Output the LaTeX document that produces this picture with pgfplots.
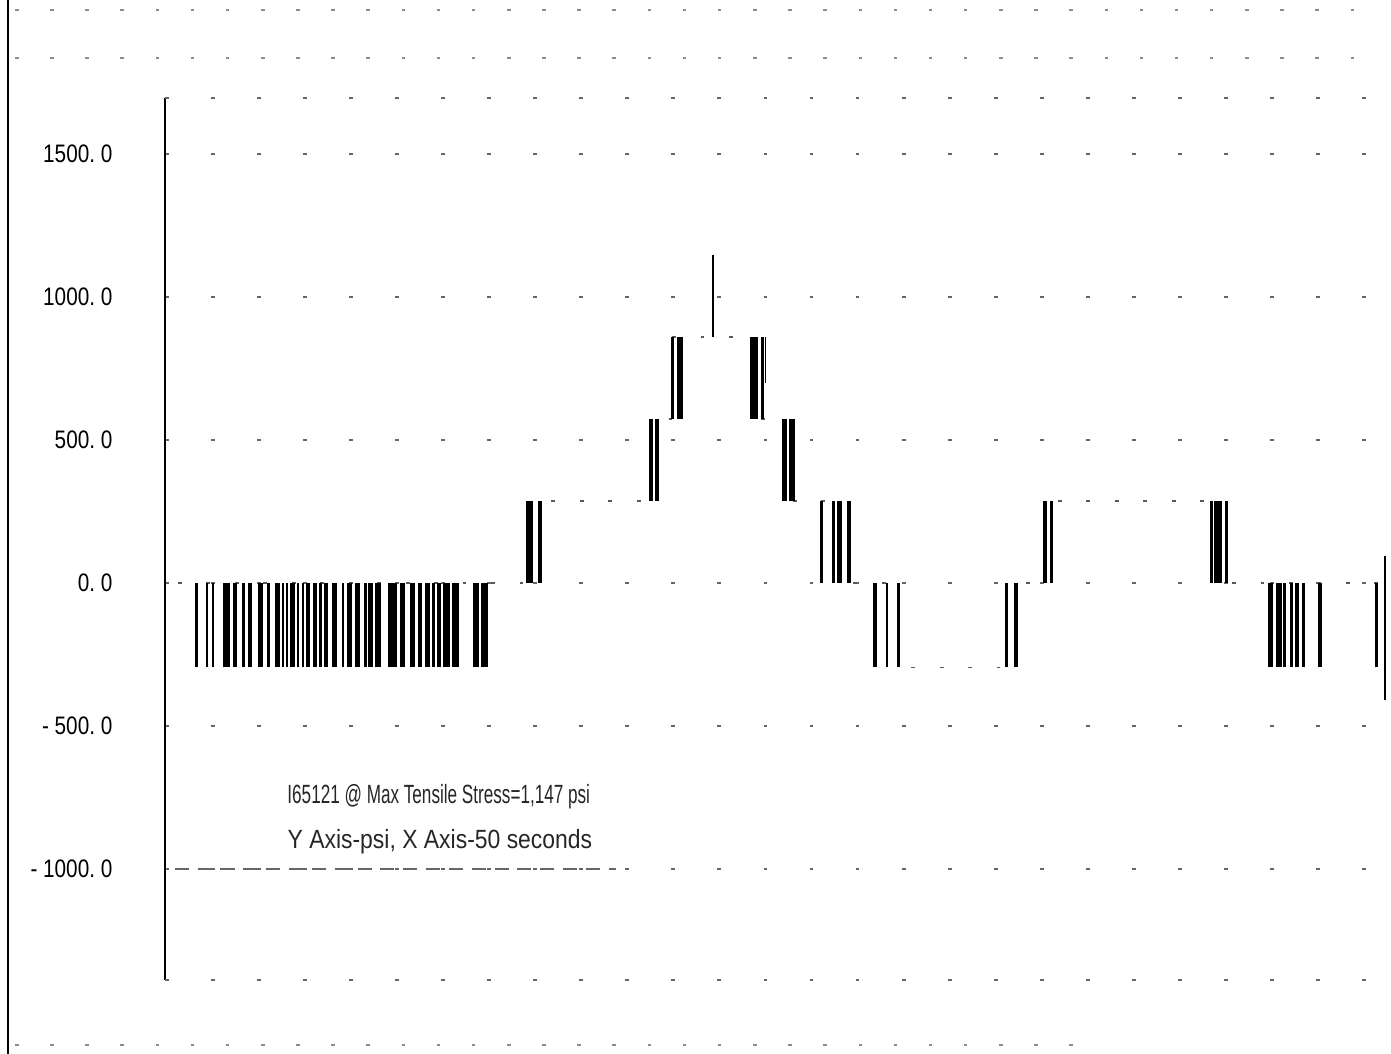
\documentclass[border=0pt]{standalone}
\usepackage{fontspec}
\setmainfont{Liberation Sans}
\usepackage{pgfplots}
\usepackage{pgfplotstable}
\pgfplotsset{compat=1.18}

% Stress transitions: time (s), level before/after (psi), stroke weight (px)
\pgfplotstableread{
t      lo    hi    w
1.291  -295  0     3
1.721  -295  0     2
1.967  -295  0     2
2.520  -295  0     7
2.869  -295  0     4
3.217  -295  0     3
3.484  -295  0     4
3.914  -295  0     5
4.242  -295  0     3
4.611  -295  0     5
4.836  -295  0     2
5.000  -295  0     2
5.225  -295  0     5
5.451  -295  0     2
5.656  -295  0     2
5.861  -295  0     4
6.148  -295  0     4
6.373  -295  0     3
6.598  -295  0     4
6.947  -295  0     5
7.295  -295  0     2
7.561  -295  0     5
7.889  -295  0     5
8.197  -295  0     3
8.422  -295  0     5
8.730  -295  0     6
9.324  -295  0     9
9.734  -295  0     5
10.143 -295  0     5
10.451 -295  0     4
10.758 -295  0     5
11.004 -295  0     3
11.230 -295  0     4
11.537 -295  0     7
11.906 -295  0     7
12.746 -295  0     6
13.094 -295  0     7
14.939 0     287   7
15.369 0     287   4
19.918 287   574   4
20.164 287   574   4
20.799 574   860   3
21.107 574   860   6
22.459 860   1147  2
24.139 574   860   8
24.488 574   860   3
24.602 700   860   1.5
25.389 287   574   5
25.697 287   574   6
26.906 0     287   3
27.398 0     287   3
27.643 0     287   5
28.033 0     287   4
29.098 -295  0     4
29.590 -295  0     2.5
30.061 -295  0     3
34.488 -295  0     3.5
34.857 -295  0     4
36.066 0     287   4
36.332 0     287   3
42.889 0     287   3
43.156 0     287   8
43.504 0     287   3
45.307 -295  0     5
45.656 -295  0     6
45.881 -295  0     3
46.168 -295  0     3
46.393 -295  0     4
46.660 -295  0     3
47.336 -295  0     4
49.652 -295  0     3
}\transitions

% Held stress level between transitions
\pgfplotstableread{
t      y
0.53   0
14.94  287
19.92  574
20.80  860
24.14  574
25.39  287
28.03  0
30.06  -295
34.86  0
36.33  287
42.89  0
50.00  0
}\levels

\tikzset{
  sparse/.style={dash pattern=on 1.1pt off 12pt, line width=0.45pt, black!60},
  header/.style={dash pattern=on 1pt off 9pt, line width=0.4pt, black!45},
}

\begin{document}
\begin{tikzpicture}[x=1cm,y=1cm]
\useasboundingbox (0,0) rectangle (13.91,10.54);
% page edge and faded print header/footer
\draw[line width=0.75pt] (0.08,0) -- (0.08,10.54);
\draw[header] (0.15,10.44) -- (13.85,10.44);
\draw[header] (0.15,9.96) -- (13.7,9.96);
\draw[header] (0.15,0.09) -- (11.0,0.09);

\begin{axis}[
  at={(1.65cm,0.74cm)}, anchor=south west, scale only axis,
  width=12.2cm, height=8.82cm,
  xmin=0, xmax=50, ymin=-1388, ymax=1696,
  axis line style={draw=none},
  xtick=\empty,
  ytick={-1000,-500,0,500,1000,1500},
  yticklabels={- 1000.\ 0, - 500.\ 0, 0.\ 0, 500.\ 0, 1000.\ 0, 1500.\ 0},
  major tick length=0pt,
  ymajorgrids, grid style={sparse},
  yticklabel style={font=\fontsize{7.2}{8}\selectfont, anchor=east,
    inner sep=0pt, xshift=-0.52cm, xscale=0.82},
  point meta min=0, point meta max=10,
  clip=false,
]
% axis frame as printed: solid left edge, dotted top and bottom
\draw[line width=0.6pt] (rel axis cs:0,0) -- (rel axis cs:0,1);
\draw[sparse] (rel axis cs:0,1) -- (rel axis cs:1,1);
\draw[sparse] (rel axis cs:0,0) -- (rel axis cs:1,0);
\draw[line width=0.6pt] (axis cs:50,95) -- (axis cs:50,-410);
\draw[dash pattern=on 4pt off 2.5pt, line width=0.4pt, black!60]
  (axis cs:0.4,-1000) -- (axis cs:18.5,-1000);

% held levels
\addplot[const plot, no markers, dash pattern=on 1.1pt off 7pt,
  line width=0.45pt, black!65] table[x=t, y=y] {\levels};

% transitions
\addplot[black, no markers, point meta=explicit,
  quiver={u=0, v=\thisrow{hi}-\thisrow{lo},
    every arrow/.append style={line width=0.002845pt*\pgfplotspointmetatransformed}}]
  table[x=t, y=lo, meta=w] {\transitions};

\node[anchor=west, inner sep=0pt, font=\fontsize{7.5}{9}\selectfont,
  xscale=0.65, text=black!85] at (axis cs:5.0,-748)
  {I65121 @ Max Tensile Stress=1,147 psi};
\node[anchor=west, inner sep=0pt, font=\fontsize{7.5}{9}\selectfont,
  xscale=0.87, text=black!85] at (axis cs:5.0,-906)
  {Y Axis-psi, X Axis-50 seconds};
\end{axis}
\end{tikzpicture}
\end{document}
